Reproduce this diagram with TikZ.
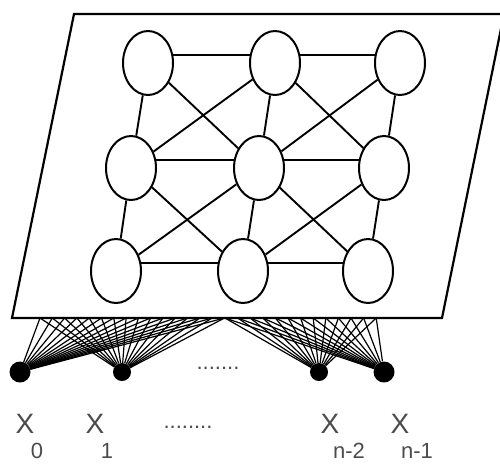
\documentclass[tikz,border=0pt]{standalone}
\usepackage{fontspec}
\setmainfont{Liberation Sans}
\usetikzlibrary{shapes.geometric}
\tikzset{neuron/.style={draw,ellipse,line width=2pt,minimum width=50pt,minimum height=64pt,inner sep=0pt},
    link/.style={line width=1.9pt},
    fan/.style={line width=1.2pt},
    inp/.style={circle,fill,inner sep=0pt,minimum size=21pt},
    lbl/.style={text=black!70,inner sep=0pt,font=\fontsize{28}{28}\selectfont},
    idx/.style={text=black!70,inner sep=0pt,font=\fontsize{22}{22}\selectfont}}
\begin{document}
\begin{tikzpicture}[x=1pt,y=-1pt]
            \useasboundingbox(0,0)rectangle(500,464);
            \clip(0,0)rectangle(500,464);
            % plane
            \coordinate(P1)at(12,318);
            \coordinate(P2)at(74,14);
            \coordinate(P3)at(504,14);
            \coordinate(P4)at(442,318);
            \draw[line width=2.2pt](P1)--(P2)--(P3)--(P4)--cycle;
            % neurons
            \node[neuron](n11)at(148,63){};
            \node[neuron](n12)at(275,63){};
            \node[neuron](n13)at(400,63){};
            \node[neuron](n21)at(131,168){};
            \node[neuron](n22)at(259,168){};
            \node[neuron](n23)at(384,168){};
            \node[neuron](n31)at(116,271){};
            \node[neuron](n32)at(243,271){};
            \node[neuron](n33)at(368,271){};
            \foreach \r in {1,2,3}{
                \draw[link](n\r1.18)--(n\r2.162);
                \draw[link](n\r2.18)--(n\r3.162);}
            \foreach \r/\s in {1/2,2/3}{
                \draw[link](n\r1)--(n\s1);
                \draw[link](n\r2)--(n\s2);
                \draw[link](n\r3)--(n\s3);
                \draw[link](n\r1)--(n\s2);
                \draw[link](n\r2)--(n\s1);
                \draw[link](n\r2)--(n\s3);
                \draw[link](n\r3)--(n\s2);}
            % inputs
            \node[inp](x0)at(20,372){};
            \node[inp,minimum size=18pt](x1)at(122,372){};
            \node[inp,minimum size=18pt](x2)at(319,372){};
            \node[inp](x3)at(384,372){};
            \foreach \i in {0,...,15}{
                \coordinate(b\i)at({40+\i*12.3},318);
                \draw[fan](x0)--(b\i);
                \draw[fan](x1)--(b\i);}
            \foreach \i in {0,...,12}{
                \coordinate(c\i)at({225+\i*12.6},318);
                \draw[fan](x2)--(c\i);
                \draw[fan](x3)--(c\i);}
            \node[text=black!70,font=\fontsize{22}{22}\selectfont](d1)at(218,368){.......};
            % labels
            \node[lbl](l0)at(25,424){X};
            \node[lbl](l1)at(95,424){X};
            \node[lbl](l2)at(330,424){X};
            \node[lbl](l3)at(400,424){X};
            \node[text=black!70,font=\fontsize{22}{22}\selectfont](d2)at(188,427){........};
            \node[idx](s0)at(37,451){0};
            \node[idx](s1)at(107,451){1};
            \node[idx](s2)at(349,451){n-2};
            \node[idx](s3)at(417,451){n-1};
        \end{tikzpicture}
\end{document}
